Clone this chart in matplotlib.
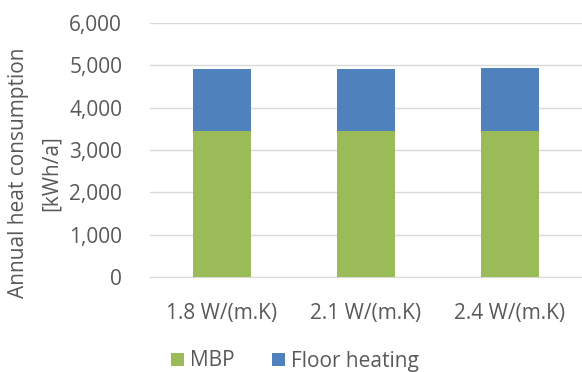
import numpy as np
import matplotlib.pyplot as plt

categories = ["1.8 W/(m.K)", "2.1 W/(m.K)", "2.4 W/(m.K)"]
mbp = [3450, 3450, 3450]
floor_heating = [1470, 1460, 1490]

plt.rcParams['font.family'] = ['Open Sans', 'DejaVu Sans']
text_color = '#595959'

fig = plt.figure(figsize=(5.82, 3.72), dpi=100)
ax = fig.add_axes([150 / 582, 1 - 277 / 372, 432 / 582, 254 / 372])

x = np.arange(len(categories))
ax.bar(x, mbp, width=0.4, color='#9BBB59', label='MBP', zorder=3)
ax.bar(x, floor_heating, width=0.4, bottom=mbp, color='#4F81BD',
       label='Floor heating', zorder=3)

ax.set_xlim(-0.5, 2.5)
ax.set_ylim(0, 6000)
ax.set_yticks(np.arange(0, 6001, 1000))
ax.set_yticklabels([f"{v:,}" for v in range(0, 6001, 1000)])
ax.set_xticks(x)
ax.set_xticklabels(categories)
ax.yaxis.grid(True, color='#D9D9D9', linewidth=1, zorder=0)
for s in ['top', 'right', 'left']:
    ax.spines[s].set_visible(False)
ax.spines['bottom'].set_color('#D9D9D9')
ax.tick_params(axis='both', length=0, labelsize=15, colors=text_color)
ax.tick_params(axis='y', pad=20)
ax.tick_params(axis='x', pad=19)

# two-line y label, each line centred on its own
for xpix, line in [(19, "Annual heat consumption"), (51, "[kWh/a]")]:
    fig.text(xpix / 582, 1 - 173 / 372, line, rotation=90, ha='center',
             va='center', fontsize=15, color=text_color)

fig.legend(loc='center', bbox_to_anchor=(295 / 582, 1 - 361 / 372), ncol=2,
           frameon=False, fontsize=15, labelcolor=text_color,
           handlelength=0.6, handleheight=0.6, handletextpad=0.3,
           columnspacing=1.8)

fig.savefig('out.png', dpi=100)
